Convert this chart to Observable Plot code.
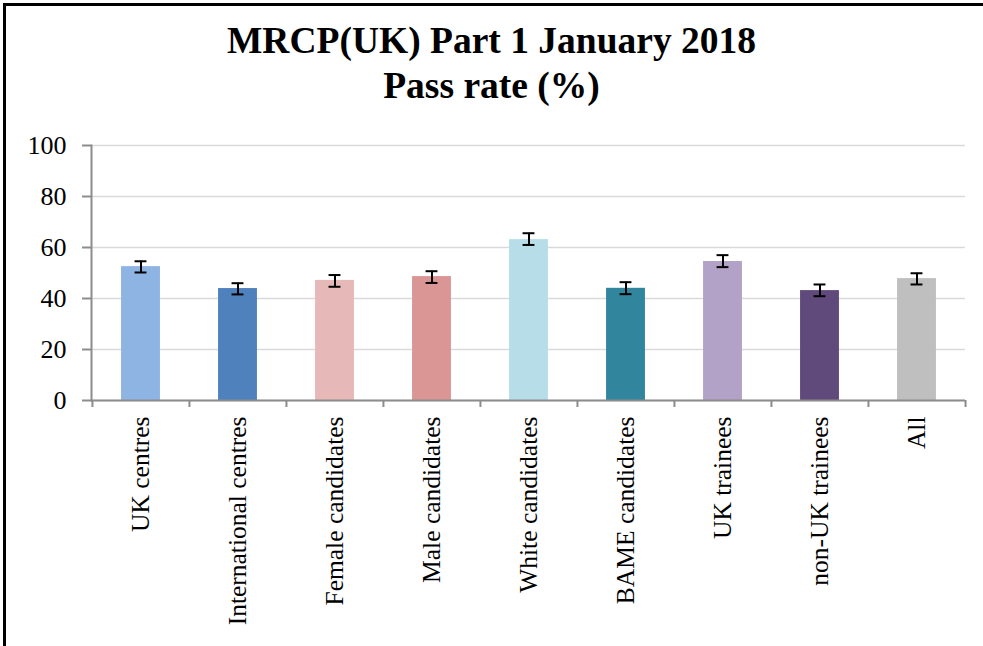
<!DOCTYPE html>
<html>
<head>
<meta charset="utf-8">
<script src="https://cdn.jsdelivr.net/npm/d3@7"></script>
<script src="https://cdn.jsdelivr.net/npm/@observablehq/plot@0.6"></script>
<style>
  html, body { margin: 0; padding: 0; background: #ffffff; }
  #wrap { position: relative; width: 983px; height: 646px; overflow: hidden; background: #fff; }
  #border { position: absolute; left: 3px; top: 3px; right: -10px; bottom: -10px;
            border-left: 3px solid #000; border-top: 3px solid #000; pointer-events: none; }
  #title { box-sizing: border-box; height: 120px; padding-top: 18px; text-align: center;
           font-family: "Liberation Serif", serif; font-weight: bold; font-size: 37.5px; line-height: 45px; color: #000; }
  #chart svg { display: block; }
</style>
</head>
<body>
<div id="wrap">
  <div id="title">MRCP(UK) Part 1 January 2018<br>Pass rate (%)</div>
  <div id="chart"></div>
  <div id="border"></div>
</div>
<script>
const categories = ["UK centres", "International centres", "Female candidates", "Male candidates",
  "White candidates", "BAME candidates", "UK trainees", "non-UK trainees", "All"];
const passRate = [52.5, 43.9, 47.1, 48.6, 63.1, 44.0, 54.5, 43.1, 47.8];
const lowerCI  = [50.2, 41.6, 44.6, 46.1, 61.0, 41.7, 52.3, 40.9, 45.5];
const upperCI  = [54.6, 46.0, 49.2, 50.7, 65.6, 46.4, 57.0, 45.5, 49.9];
const colors   = ["#8EB4E3", "#4F81BD", "#E6B9B8", "#D99694", "#B7DEE8", "#31859C", "#B3A2C7", "#604A7B", "#BFBFBF"];
const yTicks   = [0, 20, 40, 60, 80, 100];

const data = categories.map((c, i) => ({cat: c, value: passRate[i], lo: lowerCI[i], hi: upperCI[i], color: colors[i]}));

const W = 983, H = 526, mL = 91, mR = 18, mT = 25, mB = 246;
const step = (W - mL - mR) / categories.length;
const barW = 39, capW = 12;
const axisGrey = "#8c8c8c";

const chart = Plot.plot({
  width: W, height: H,
  marginTop: mT, marginBottom: mB, marginLeft: mL, marginRight: mR,
  style: {fontFamily: "'Liberation Serif', serif", background: "transparent", overflow: "visible", color: "#000"},
  x: {domain: categories, padding: 0, axis: null, label: null},
  y: {domain: [0, 100], axis: null, label: null},
  color: {type: "identity"},
  marks: [
    Plot.gridY(yTicks, {stroke: "#d9d9d9", strokeOpacity: 1, strokeWidth: 1.5}),
    Plot.barY(data, {x: "cat", y: "value", fill: "color", insetLeft: (step - barW) / 2, insetRight: (step - barW) / 2}),
    Plot.ruleX(data, {x: "cat", y1: "lo", y2: "hi", stroke: "#000", strokeWidth: 2}),
    Plot.tickY(data, {x: "cat", y: "lo", stroke: "#000", strokeWidth: 2, insetLeft: (step - capW) / 2, insetRight: (step - capW) / 2}),
    Plot.tickY(data, {x: "cat", y: "hi", stroke: "#000", strokeWidth: 2, insetLeft: (step - capW) / 2, insetRight: (step - capW) / 2}),
    Plot.frame({anchor: "left", stroke: axisGrey, strokeWidth: 2}),
    Plot.ruleY([0], {stroke: axisGrey, strokeWidth: 2}),
    Plot.axisY(yTicks, {tickSize: 9, tickPadding: 16, fontSize: 26, stroke: axisGrey, strokeWidth: 2, fill: "#000", label: null}),
    Plot.axisX(categories, {tickSize: 0, tickRotate: -90, tickPadding: 16, fontSize: 25.5, fill: "#000", label: null}),
    Plot.axisX(categories, {tickSize: 7, text: null, dx: -step / 2, stroke: axisGrey, strokeWidth: 2, label: null}),
    Plot.axisX(categories.slice(-1), {tickSize: 7, text: null, dx: step / 2, stroke: axisGrey, strokeWidth: 2, label: null})
  ]
});
document.getElementById("chart").appendChild(chart);
</script>
</body>
</html>
